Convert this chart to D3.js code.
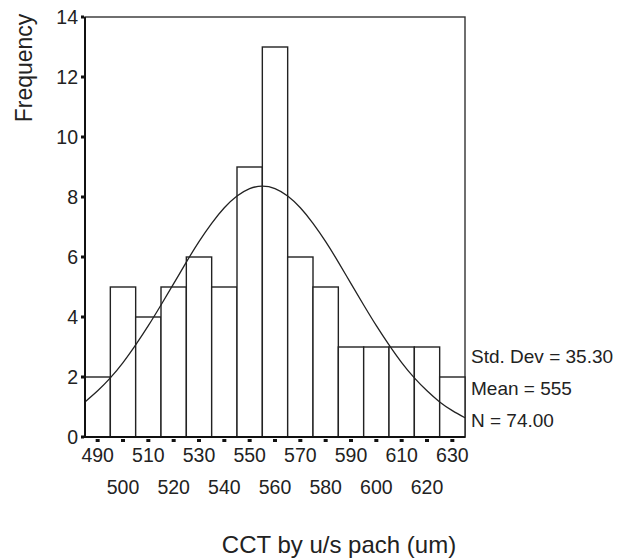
<!DOCTYPE html>
<html>
<head>
<meta charset="utf-8">
<script src="https://cdn.jsdelivr.net/npm/d3@7"></script>
<style>
  body { margin: 0; background: #fff; }
  text { font-family: "Liberation Sans", Arial, sans-serif; fill: #222; }
</style>
</head>
<body>
<svg id="chart" width="623" height="559"></svg>
<script>
// bins (centres) and counts
var binCenters = [490, 500, 510, 520, 530, 540, 550, 560, 570, 580, 590, 600, 610, 620, 630];
var counts     = [2, 5, 4, 5, 6, 5, 9, 13, 6, 5, 3, 3, 3, 3, 2];
var binWidth = 10;

// normal curve, every 5 um
var curveX = [485, 490, 495, 500, 505, 510, 515, 520, 525, 530, 535, 540, 545, 550, 555, 560,
              565, 570, 575, 580, 585, 590, 595, 600, 605, 610, 615, 620, 625, 630, 635];
var curveY = [1.17, 1.54, 1.97, 2.48, 3.07, 3.71, 4.40, 5.11, 5.83, 6.51, 7.12, 7.64, 8.03, 8.28, 8.36, 8.28,
              8.03, 7.64, 7.12, 6.51, 5.83, 5.11, 4.40, 3.71, 3.07, 2.48, 1.97, 1.54, 1.17, 0.88, 0.64];

var yTicks = [0, 2, 4, 6, 8, 10, 12, 14];
var statsLines = ["Std. Dev = 35.30", "Mean = 555", "N = 74.00"];

var svg = d3.select("#chart");
// plot box (don't call it "top", window.top is read only)
var pLeft = 85, pRight = 465, pTop = 17, pBottom = 437;

var x = d3.scaleLinear().domain([485, 635]).range([pLeft, pRight]);
var y = d3.scaleLinear().domain([0, 14]).range([pBottom, pTop]);

// frame
svg.append("rect")
  .attr("x", pLeft).attr("y", pTop)
  .attr("width", pRight - pLeft).attr("height", pBottom - pTop)
  .attr("fill", "white").attr("stroke", "#333").attr("stroke-width", 1.4);

// bars
svg.selectAll("rect.bar")
  .data(binCenters)
  .enter().append("rect")
  .attr("class", "bar")
  .attr("x", function(d){ return x(d - binWidth / 2); })
  .attr("width", function(d){ return x(d + binWidth / 2) - x(d - binWidth / 2); })
  .attr("y", function(d, i){ return y(counts[i]); })
  .attr("height", function(d, i){ return y(0) - y(counts[i]); })
  .attr("fill", "white")
  .attr("stroke", "#222")
  .attr("stroke-width", 1.4);

// normal curve
var line = d3.line()
  .x(function(d){ return x(d); })
  .y(function(d, i){ return y(curveY[i]); })
  .curve(d3.curveNatural);
svg.append("path")
  .datum(curveX)
  .attr("d", line)
  .attr("fill", "none")
  .attr("stroke", "#222")
  .attr("stroke-width", 1.3);

// axes lines (left + bottom are heavier)
svg.append("line").attr("x1", pLeft).attr("x2", pLeft).attr("y1", pTop).attr("y2", pBottom)
  .attr("stroke", "#111").attr("stroke-width", 2);
svg.append("line").attr("x1", pLeft - 2).attr("x2", pRight).attr("y1", pBottom).attr("y2", pBottom)
  .attr("stroke", "#111").attr("stroke-width", 2);

// y ticks: little squares + labels
var yt = svg.selectAll("g.ytick").data(yTicks).enter().append("g").attr("class", "ytick");
yt.append("rect")
  .attr("x", pLeft - 4).attr("width", 3)
  .attr("y", function(d){ return y(d) - 1.5; }).attr("height", 3)
  .attr("fill", "#111");
yt.append("text")
  .attr("x", 78)
  .attr("y", function(d){ return y(d); })
  .attr("dy", "0.36em")
  .attr("text-anchor", "end")
  .attr("font-size", "19.5px")
  .text(function(d){ return d; });

// x ticks at every bin centre
svg.selectAll("rect.xtick").data(binCenters).enter().append("rect")
  .attr("class", "xtick")
  .attr("x", function(d){ return x(d) - 2; }).attr("width", 4)
  .attr("y", pBottom + 2).attr("height", 3)
  .attr("fill", "#111");

// x labels, staggered on two rows
svg.selectAll("text.xlab").data(binCenters).enter().append("text")
  .attr("class", "xlab")
  .attr("x", function(d){ return x(d); })
  .attr("y", function(d, i){ return i % 2 === 0 ? 461.7 : 494.3; })
  .attr("text-anchor", "middle")
  .attr("font-size", "19.5px")
  .text(function(d){ return d; });

// stats text on the right
svg.selectAll("text.stat").data(statsLines).enter().append("text")
  .attr("class", "stat")
  .attr("x", 471)
  .attr("y", function(d, i){ return 363 + i * 32; })
  .attr("font-size", "19px")
  .text(function(d){ return d; });

// axis titles
svg.append("text")
  .attr("transform", "translate(32,68) rotate(-90)")
  .attr("text-anchor", "middle")
  .attr("font-size", "23px")
  .text("Frequency");

svg.append("text")
  .attr("x", 339).attr("y", 553)
  .attr("text-anchor", "middle")
  .attr("font-size", "24px")
  .text("CCT by u/s pach (um)");
</script>
</body>
</html>
